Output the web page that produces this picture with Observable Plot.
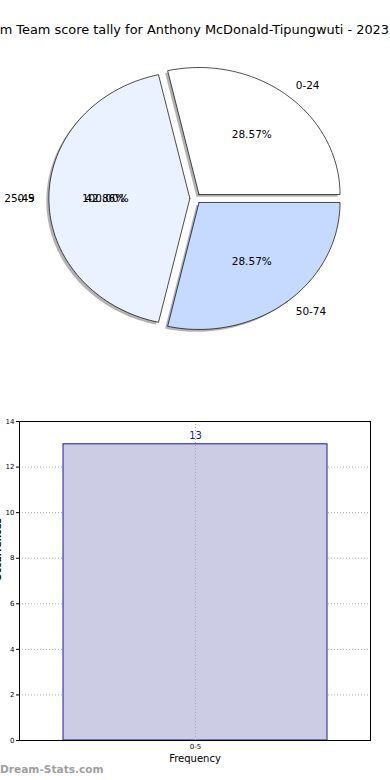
<!DOCTYPE html>
<html>
<head>
<meta charset="utf-8">
<script src="https://cdn.jsdelivr.net/npm/d3@7"></script>
<script src="https://cdn.jsdelivr.net/npm/@observablehq/plot@0.6"></script>
<style>
  html, body { margin: 0; padding: 0; background: #fff; width: 390px; height: 780px; overflow: hidden; font-family: "DejaVu Sans", sans-serif; }
  #title { position: absolute; right: 1px; top: 22px; white-space: nowrap; font-size: 12.9px; color: #000; text-align: right; }
  #pie { position: absolute; left: 0; top: 0; }
  #bar { position: absolute; left: 0; top: 400px; }
  #wm { position: absolute; left: 0; top: 763px; font-size: 10.6px; font-weight: bold; color: #a0a0a0; white-space: nowrap; }
</style>
</head>
<body>
<div id="pie"></div>
<div id="title">Dream Team score tally for Anthony McDonald-Tipungwuti - 2023</div>
<div id="bar"></div>
<div id="wm">Dream-Stats.com</div>
<script>
// ---- data ----
const pieLabels = ["0-24", "25-49", "50-74"];
const pieValues = [4, 6, 4];
const pieColors = ["#ffffff", "#eaf2ff", "#c6d9ff"];
const fullPieLabel = "0-5";
const fullPiePct = "100.00%";

const barCategories = ["0-5"];
const barValues = [13];
const yTicks = [0, 2, 4, 6, 8, 10, 12, 14];

// ---- pie geometry (unit data space) ----
const explode = 0.04;
const total = d3.sum(pieValues);
let start = 0;
const slices = [];
const shadows = [];
const labelRows = [];
pieValues.forEach((v, i) => {
  const a0 = start, a1 = start + (v / total) * 2 * Math.PI;
  start = a1;
  const mid = (a0 + a1) / 2;
  const cx = explode * Math.cos(mid), cy = explode * Math.sin(mid);
  const pts = [{x: cx, y: cy, s: i}];
  const n = 80;
  for (let k = 0; k <= n; k++) {
    const a = a0 + (a1 - a0) * k / n;
    pts.push({x: cx + Math.cos(a), y: cy + Math.sin(a), s: i});
  }
  pts.push({x: cx, y: cy, s: i});
  slices.push(pts);
  shadows.push(pts.map(p => ({x: p.x - 0.018, y: p.y - 0.018, s: i})));
  labelRows.push({
    x: cx + 1.1 * Math.cos(mid), y: cy + 1.1 * Math.sin(mid),
    px: cx + 0.6 * Math.cos(mid), py: cy + 0.6 * Math.sin(mid),
    label: pieLabels[i], pct: (v / total * 100).toFixed(2) + "%",
    anchor: Math.cos(mid) > 0.001 ? "start" : (Math.cos(mid) < -0.001 ? "end" : "middle")
  });
});
// full (100%) pie label overlapping at 180 degrees
const fullRow = {x: -explode - 1.1, y: 0, px: -explode - 0.6, py: 0};

const rx = 141, ry = 127, pcx = 195, pcy = 198, pieH = 390;

const pieMarks = [];
shadows.forEach(s => pieMarks.push(Plot.line(s, {x: "x", y: "y", fill: "#666", fillOpacity: 0.5, stroke: "none"})));
slices.forEach((s, i) => pieMarks.push(Plot.line(s, {x: "x", y: "y", fill: pieColors[i], stroke: "#000", strokeWidth: 0.7, strokeLinejoin: "miter"})));
labelRows.forEach(r => {
  pieMarks.push(Plot.text([r], {x: "x", y: "y", text: "label", textAnchor: r.anchor, fontSize: 10.5, fill: "#000"}));
  pieMarks.push(Plot.text([r], {x: "px", y: "py", text: "pct", fontSize: 10.5, fill: "#000"}));
});
pieMarks.push(Plot.text([fullRow], {x: "x", y: "y", text: () => fullPieLabel, textAnchor: "end", fontSize: 10.5, fill: "#000"}));
pieMarks.push(Plot.text([fullRow], {x: "px", y: "py", text: () => fullPiePct, fontSize: 10.5, fill: "#000"}));

const pie = Plot.plot({
  width: 390, height: pieH, margin: 0,
  x: {domain: [-pcx / rx, (390 - pcx) / rx], axis: null},
  y: {domain: [-(pieH - pcy) / ry, pcy / ry], axis: null},
  style: {fontFamily: "DejaVu Sans, sans-serif", background: "transparent", overflow: "visible"},
  marks: pieMarks
});
document.getElementById("pie").appendChild(pie);

// ---- bar chart ----
const barData = barCategories.map((k, i) => ({k, v: barValues[i]}));
const bar = Plot.plot({
  width: 390, height: 380,
  marginTop: 21, marginBottom: 40, marginLeft: 19, marginRight: 20,
  x: {domain: barCategories, padding: 0.1415, label: null},
  y: {domain: [0, 14], label: null},
  style: {fontFamily: "DejaVu Sans, sans-serif", background: "transparent", overflow: "visible"},
  marks: [
    Plot.gridY(yTicks, {stroke: "#aaa", strokeOpacity: 1, strokeDasharray: "1,2", strokeWidth: 1}),
    Plot.barY(barData, {x: "k", y: "v", fill: "#cccce4", stroke: "#1a1aa0", strokeWidth: 1}),
    Plot.gridX(barCategories, {stroke: "#aaa", strokeOpacity: 1, strokeDasharray: "1,2", strokeWidth: 1}),
    Plot.frame({stroke: "#000", strokeWidth: 1}),
    Plot.axisY(yTicks, {fontSize: 7, tickSize: 3, tickPadding: 2, label: null, stroke: "#000"}),
    Plot.axisX({fontSize: 7, tickSize: 0, tickPadding: 4, label: null}),
    Plot.text(barData, {x: "k", y: "v", text: d => String(d.v), dy: -8, fontSize: 10, fill: "#1a1a80"}),
    Plot.text(["Frequency"], {frameAnchor: "bottom", text: d => d, dy: 21, fontSize: 10, fill: "#000"}),
    Plot.text(["Occurrences"], {frameAnchor: "left", text: d => d, dx: -21, rotate: -90, fontSize: 9, fontWeight: "bold", fill: "#000"})
  ]
});
document.getElementById("bar").appendChild(bar);
</script>
</body>
</html>
